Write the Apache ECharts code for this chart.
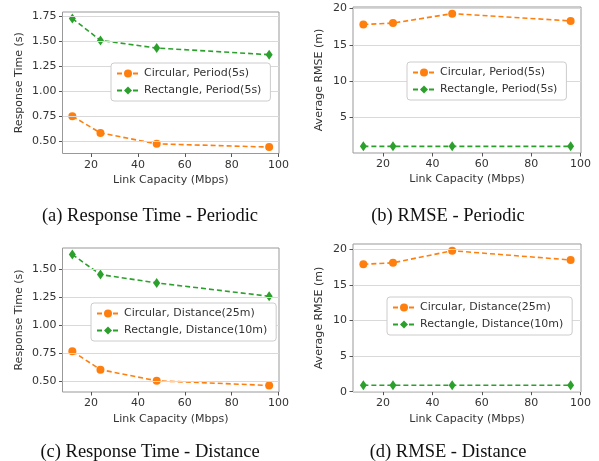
<!DOCTYPE html>
<html>
<head>
<meta charset="utf-8">
<title>Response Time and RMSE vs Link Capacity</title>
<script src="https://cdn.jsdelivr.net/npm/echarts@6/dist/echarts.min.js"></script>
<style>
  html, body { margin: 0; padding: 0; background: #fff; }
  #chart { width: 599px; height: 461px; }
</style>
</head>
<body>
<div id="chart"></div>
<script>
// link capacity (Mbps) on the x axis of every panel
const linkCapacity = [12, 24, 48, 96];

// (a) response time, periodic
const rtPeriodicCircular = [0.753, 0.586, 0.477, 0.445];
const rtPeriodicRectangle = [1.727, 1.508, 1.432, 1.366];
// (b) rmse, periodic
const rmsePeriodicCircular = [17.8, 18.0, 19.3, 18.3];
const rmsePeriodicRectangle = [1.0, 1.0, 1.0, 1.0];
// (c) response time, distance
const rtDistanceCircular = [0.765, 0.60, 0.50, 0.458];
const rtDistanceRectangle = [1.635, 1.455, 1.38, 1.26];
// (d) rmse, distance
const rmseDistanceCircular = [17.9, 18.1, 19.8, 18.5];
const rmseDistanceRectangle = [0.9, 0.9, 0.9, 0.9];

// tick labels
const xTicks = [20, 40, 60, 80, 100];
const yTicksA = [0.5, 0.75, 1.0, 1.25, 1.5, 1.75];
const yTicksB = [5, 10, 15, 20];
const yTicksC = [0.5, 0.75, 1.0, 1.25, 1.5];
const yTicksD = [0, 5, 10, 15, 20];

const captions = [
  "(a) Response Time - Periodic",
  "(b) RMSE - Periodic",
  "(c) Response Time - Distance",
  "(d) RMSE - Distance"
];

const ORANGE = "#ff7f0e";
const GREEN = "#2ca02c";
const TEXT = "#333";
const FONT = "DejaVu Sans";

// matplotlib-like 5% margin around the data
function padRange(arrs) {
  let all = [].concat(...arrs);
  let lo = Math.min(...all), hi = Math.max(...all);
  let m = (hi - lo) * 0.05;
  return [lo - m, hi + m];
}

const xRange = padRange([linkCapacity]);

let grids = [
  { left: 62.5, top: 12, width: 216.5, height: 141.5 },
  { left: 353, top: 7, width: 228, height: 146 },
  { left: 62.5, top: 248, width: 216.5, height: 144 },
  { left: 353, top: 244, width: 228, height: 148 }
].map(g => Object.assign({ show: true, borderColor: "#999", borderWidth: 1, backgroundColor: "#fff" }, g));

function xAxis(i) {
  return {
    type: "value",
    gridIndex: i,
    min: xRange[0],
    max: xRange[1],
    name: "Link Capacity (Mbps)",
    nameLocation: "middle",
    nameGap: i < 2 ? 21 : 22,
    nameTextStyle: { color: TEXT, fontFamily: FONT, fontSize: 11 },
    axisLine: { show: false },
    axisTick: { show: true, length: 3.5, lineStyle: { color: "#555" }, customValues: xTicks },
    axisLabel: { color: TEXT, fontFamily: FONT, fontSize: 11, margin: 6, customValues: xTicks },
    splitLine: { show: false }
  };
}

function yAxis(i, name, ticks, range, fmt, gap) {
  return {
    type: "value",
    gridIndex: i,
    min: range[0],
    max: range[1],
    name: name,
    nameLocation: "middle",
    nameGap: gap,
    nameTextStyle: { color: TEXT, fontFamily: FONT, fontSize: 11 },
    axisLine: { show: false },
    axisTick: { show: true, length: 3.5, lineStyle: { color: "#555" }, customValues: ticks },
    axisLabel: { color: TEXT, fontFamily: FONT, fontSize: 11, margin: 6, customValues: ticks, formatter: fmt },
    splitLine: { show: false }
  };
}

function pairs(ys) {
  return linkCapacity.map((x, k) => [x, ys[k]]);
}

// horizontal grid lines at the tick values
function gridLines(ticks) {
  return {
    silent: true,
    symbol: ["none", "none"],
    label: { show: false },
    animation: false,
    lineStyle: { color: "#d9d9d9", type: "solid", width: 1 },
    emphasis: { disabled: true },
    data: ticks.map(v => ({ yAxis: v }))
  };
}

function series(i, name, ys, color, shape, ticks) {
  let s = {
    type: "line",
    name: name,
    xAxisIndex: i,
    yAxisIndex: i,
    data: pairs(ys),
    symbol: shape === "circle" ? "circle" : "diamond",
    symbolSize: shape === "circle" ? 8 : [7, 10],
    showAllSymbol: true,
    lineStyle: { color: color, width: 1.6, type: [5, 3] },
    itemStyle: { color: color },
    animation: false,
    z: 3
  };
  if (ticks) s.markLine = gridLines(ticks);
  return s;
}

function legend(names, left, top) {
  return {
    show: true,
    data: names,
    orient: "vertical",
    left: left,
    top: top,
    z: 20,
    itemWidth: 22,
    itemHeight: 10,
    itemGap: 6,
    padding: [5, 9, 5, 5],
    borderColor: "#ccc",
    borderWidth: 1,
    borderRadius: 3,
    backgroundColor: "#fff",
    textStyle: { color: TEXT, fontFamily: FONT, fontSize: 11 },
    selectedMode: false
  };
}

const fmt2 = v => v.toFixed(2);
const fmt0 = v => String(v);

let names = {
  cp: "Circular, Period(5s)",
  rp: "Rectangle, Period(5s)",
  cd: "Circular, Distance(25m)",
  rd: "Rectangle, Distance(10m)"
};

let option = {
  backgroundColor: "#fff",
  animation: false,
  grid: grids,
  title: captions.map((t, k) => ({
    text: t,
    left: k % 2 === 0 ? 145 : 443,
    top: k < 2 ? 202 : 438,
    textAlign: "center",
    textStyle: { color: "#111", fontFamily: "Liberation Serif", fontSize: 18.5, fontWeight: "normal" }
  })),
  legend: [
    legend([names.cp, names.rp], 111, 63),
    legend([names.cp, names.rp], 407, 62),
    legend([names.cd, names.rd], 91, 303),
    legend([names.cd, names.rd], 387, 297)
  ],
  xAxis: [xAxis(0), xAxis(1), xAxis(2), xAxis(3)],
  yAxis: [
    yAxis(0, "Response Time (s)", yTicksA, padRange([rtPeriodicCircular, rtPeriodicRectangle]), fmt2, 38),
    yAxis(1, "Average RMSE (m)", yTicksB, padRange([rmsePeriodicCircular, rmsePeriodicRectangle]), fmt0, 28),
    yAxis(2, "Response Time (s)", yTicksC, padRange([rtDistanceCircular, rtDistanceRectangle]), fmt2, 38),
    yAxis(3, "Average RMSE (m)", yTicksD, padRange([rmseDistanceCircular, rmseDistanceRectangle]), fmt0, 28)
  ],
  series: [
    series(0, names.cp, rtPeriodicCircular, ORANGE, "circle", yTicksA),
    series(0, names.rp, rtPeriodicRectangle, GREEN, "diamond"),
    series(1, names.cp, rmsePeriodicCircular, ORANGE, "circle", yTicksB),
    series(1, names.rp, rmsePeriodicRectangle, GREEN, "diamond"),
    series(2, names.cd, rtDistanceCircular, ORANGE, "circle", yTicksC),
    series(2, names.rd, rtDistanceRectangle, GREEN, "diamond"),
    series(3, names.cd, rmseDistanceCircular, ORANGE, "circle", yTicksD),
    series(3, names.rd, rmseDistanceRectangle, GREEN, "diamond")
  ]
};

let chart = echarts.init(document.getElementById("chart"), null, { renderer: "canvas" });
chart.setOption(option);
</script>
</body>
</html>
